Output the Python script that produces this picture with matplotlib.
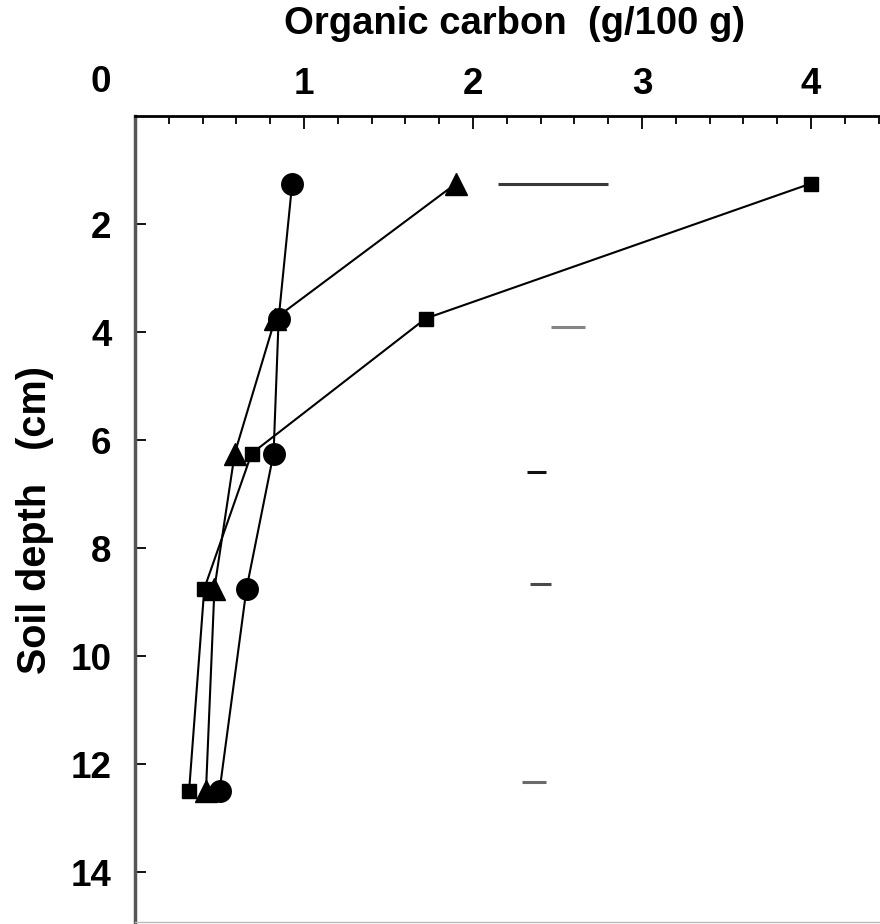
import matplotlib
matplotlib.use("Agg")
import matplotlib.pyplot as plt
from matplotlib.ticker import MultipleLocator
from matplotlib.transforms import offset_copy

plt.rcParams['font.family'] = ['Liberation Sans', 'DejaVu Sans']
plt.rcParams['font.weight'] = 'bold'

# Data
depth = [1.25, 3.75, 6.25, 8.75, 12.5]
circle_c = [0.93, 0.85, 0.82, 0.66, 0.50]
triangle_c = [1.90, 0.83, 0.59, 0.47, 0.42]
square_c = [4.00, 1.72, 0.69, 0.41, 0.32]

lsd_depth = [1.26, 3.90, 6.60, 8.67, 12.33]
lsd_lo = [2.15, 2.46, 2.32, 2.335, 2.29]
lsd_hi = [2.80, 2.66, 2.43, 2.46, 2.43]
lsd_colors = ['#383838', '#858585', '#111111', '#4a4a4a', '#6a6a6a']

x_ticks = [1, 2, 3, 4]
y_ticks = [2, 4, 6, 8, 10, 12, 14]

W, H = 880, 924
fig = plt.figure(figsize=(W / 100, H / 100), dpi=100)

left_px, top_px, bottom_px = 135, 116, 922
xmax = 4.5
px_per_x = 169
px_per_y = 54
ymax = (bottom_px - top_px) / px_per_y
width_px = xmax * px_per_x
ax = fig.add_axes([left_px / W, 1 - bottom_px / H, width_px / W, (bottom_px - top_px) / H])

ax.set_xlim(0, xmax)
ax.set_ylim(ymax, 0)

lw = 1.5
ax.plot(circle_c, depth, color='black', lw=lw, marker='o', ms=15.5, zorder=3)
ax.plot(triangle_c, depth, color='black', lw=lw, marker='^', ms=16.5, zorder=4)
ax.plot(square_c, depth, color='black', lw=lw, marker='s', ms=10.5, zorder=5)

for d, lo, hi, c in zip(lsd_depth, lsd_lo, lsd_hi, lsd_colors):
    ax.plot([lo, hi], [d, d], color=c, lw=2.2, solid_capstyle='butt')

fs = 26.5
ax.xaxis.tick_top()
ax.set_xticks(x_ticks)
ax.xaxis.set_minor_locator(MultipleLocator(0.2))
ax.set_yticks(y_ticks)
ax.tick_params(axis='x', which='major', direction='in', length=9, width=1.3,
               pad=10, labelsize=fs, top=True, bottom=False)
ax.tick_params(axis='x', which='minor', direction='in', length=6, width=1.3,
               top=True, bottom=False)
ax.tick_params(axis='y', which='major', direction='in', length=8, width=1.3,
               pad=17, labelsize=fs, left=True, right=False)
for lab in ax.get_xticklabels() + ax.get_yticklabels():
    lab.set_fontweight('bold')

ax.spines['top'].set_linewidth(2)
ax.spines['left'].set_linewidth(2.5)
ax.spines['left'].set_color('#555555')
ax.spines['bottom'].set_linewidth(1)
ax.spines['bottom'].set_color('#bbbbbb')
ax.spines['right'].set_visible(False)

# origin label
tr = offset_copy(ax.transAxes, fig=fig, x=-24, y=33, units='dots')
ax.text(0, 1, '0', transform=tr, ha='right', va='center', fontsize=fs,
        fontweight='bold')

fig.text(514 / W, 1 - 24 / H, 'Organic carbon  (g/100 g)', ha='center', va='center',
         fontsize=27.5, fontweight='bold')
fig.text(35 / W, 1 - 520 / H, 'Soil depth   (cm)', ha='center', va='center',
         rotation=90, fontsize=28.5, fontweight='bold')

fig.savefig('out.png', dpi=100)
